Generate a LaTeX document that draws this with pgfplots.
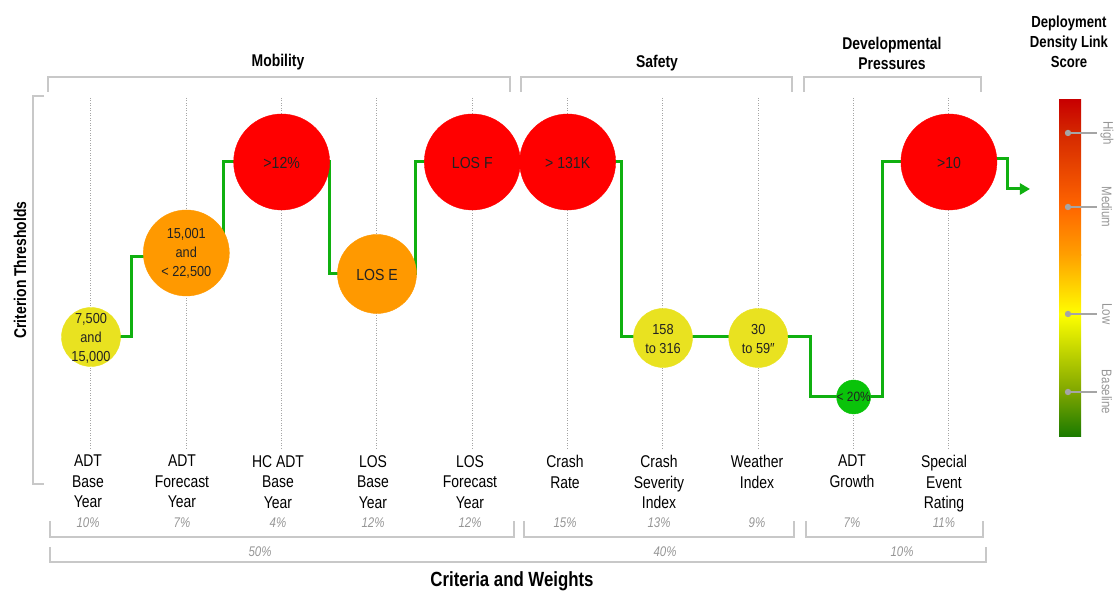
\documentclass[border=0pt]{standalone}
\usepackage{pgfplots}
\pgfplotsset{compat=1.18}
\usepackage{pgfplotstable}
\usepackage{fontspec}
\setmainfont{Liberation Sans}[FakeStretch=0.82]
\newfontfamily\bubfam{Liberation Sans}[FakeStretch=0.88]
\usetikzlibrary{arrows.meta}

\definecolor{stepgreen}{RGB}{16,176,16}
\definecolor{bubred}{RGB}{255,0,0}
\definecolor{bubor}{RGB}{255,153,0}
\definecolor{bubyel}{RGB}{233,226,32}
\definecolor{bubgrn}{RGB}{10,195,10}
\definecolor{bubtxt}{RGB}{34,34,34}
\definecolor{brk}{RGB}{200,200,200}
\definecolor{dotg}{RGB}{165,165,165}
\definecolor{wtxt}{RGB}{150,150,150}
\definecolor{cbA}{RGB}{200,0,0}
\definecolor{cbB}{RGB}{212,40,0}
\definecolor{cbC}{RGB}{255,102,0}
\definecolor{cbD}{RGB}{255,160,0}
\definecolor{cbE}{RGB}{255,255,0}
\definecolor{cbF}{RGB}{125,165,0}
\definecolor{cbG}{RGB}{25,122,0}

\newcommand\lab{\fontsize{17}{20.5}\selectfont}
\newcommand\hdr{\fontsize{17}{20}\selectfont\bfseries}
\newcommand\wt{\fontsize{14}{16}\selectfont\itshape}
\newcommand\bub{\bubfam\fontsize{16}{19}\selectfont}
\newcommand\bubm{\bubfam\fontsize{14.5}{19}\selectfont}

% criterion index, threshold level, bubble radius (pt), score class
\pgfplotstableread{
idx score r class
0 29.67 29.5 y
1 54.60 43 o
2 81.60 48 r
3 48.37 39.5 o
4 81.60 48 r
5 81.60 48 r
6 29.38 29.5 y
7 29.38 29.5 y
8 11.87 17 g
9 81.60 48 r
}\bubbles

\begin{document}
\begin{tikzpicture}
\begin{axis}[
  scale only axis, width=1117pt, height=593pt,
  xmin=-0.9546, xmax=10.763, ymin=-46.29, ymax=129.67,
  hide axis, clip=false]
\path (rel axis cs:0,0) rectangle (rel axis cs:1,1);
\coordinate (O) at (rel axis cs:0,1);

\pgfplotsinvokeforeach{0,...,9}{
  \draw[dotg, line width=1pt, dash pattern=on 1pt off 1.5pt] (axis cs:#1,100.6) -- (axis cs:#1,-3.3);
}

\addplot[stepgreen, line width=3pt, no marks] coordinates {
  (0,29.67) (0.420,29.67) (0.420,53.41) (1.395,53.41) (1.395,81.60)
  (2.497,81.60) (2.497,48.37) (3.409,48.37) (3.409,81.60) (5.570,81.60)
  (5.570,29.67) (7.552,29.67) (7.552,11.87) (8.308,11.87) (8.308,81.60) (9,81.60)
};
\addplot[stepgreen, line width=3pt, no marks, -{Triangle[length=10pt,width=11pt]}] coordinates {
  (9,82.49) (9.609,82.49) (9.609,73.59) (9.850,73.59)
};

\addplot[scatter, only marks, mark=*,
  scatter/classes={
    r={mark=*, draw=bubred, fill=bubred},
    o={mark=*, draw=bubor, fill=bubor},
    y={mark=*, draw=bubyel, fill=bubyel},
    g={mark=*, draw=bubgrn, fill=bubgrn}},
  point meta=explicit symbolic,
  visualization depends on={\thisrow{r} \as \rad},
  scatter/@pre marker code/.append style={/tikz/mark size=\rad}]
  table[x=idx, y=score, meta=class] {\bubbles};
\end{axis}

\begin{scope}[shift={(O)}, x=1pt, y=-1pt]
  % bubble texts
  \begin{scope}[every node/.style={text=bubtxt, align=center}]
  \node[font=\bubm] at (91,338) {7,500\\and\\15,000};
  \node[font=\bubm] at (186.3,253) {15,001\\and\\< 22,500};
  \node[font=\bub] at (281.7,163) {>12\%};
  \node[font=\bub] at (377,275) {LOS E};
  \node[font=\bub] at (472.3,163) {LOS F};
  \node[font=\bub] at (567.7,163) {> 131K};
  \node[font=\bubm] at (663,339) {158\\to 316};
  \node[font=\bubm] at (758.3,339) {30\\to 59″};
  \node[font=\bubfam\fontsize{13.5}{16}\selectfont] at (853.7,397) {< 20\%};
  \node[font=\bub] at (949,163) {>10};
  \end{scope}
  % group headers
  \node[font=\hdr] at (278,62) {Mobility};
  \node[font=\hdr] at (657,63) {Safety};
  \node[font=\hdr, align=center] at (892,53) {Developmental\\Pressures};
  \draw[brk, line width=2pt] (48,92) -- (48,77) -- (510,77) -- (510,92);
  \draw[brk, line width=2pt] (521,92) -- (521,77) -- (792,77) -- (792,92);
  \draw[brk, line width=2pt] (804,92) -- (804,77) -- (981,77) -- (981,92);
  % y label and bracket
  \draw[brk, line width=2pt] (44,96) -- (33,96) -- (33,484) -- (44,484);
  \node[font=\hdr, rotate=90] at (20,270) {Criterion Thresholds};
  % criteria labels
  \foreach \xx/\tt in {88/{ADT\\Base\\Year}, 182/{ADT\\Forecast\\Year},
      278/{HC ADT\\Base\\Year}, 373/{LOS\\Base\\Year}, 470/{LOS\\Forecast\\Year},
      565/{Crash\\Rate}, 659/{Crash\\Severity\\Index}, 757/{Weather\\Index},
      852/{ADT\\Growth}, 944/{Special\\Event\\Rating}}
    \node[font=\lab, align=center, anchor=north, inner sep=0pt] at (\xx,455) {\tt};
  % weights
  \foreach \xx/\tt in {88/10, 182/7, 278/4, 373/12, 470/12, 565/15, 659/13, 757/9, 852/7, 944/11}
    \node[font=\wt, text=wtxt] at (\xx,523) {\tt\%};
  \draw[brk, line width=2pt] (50,521) -- (50,537) -- (514,537) -- (514,521);
  \draw[brk, line width=2pt] (524,521) -- (524,537) -- (794,537) -- (794,521);
  \draw[brk, line width=2pt] (806,521) -- (806,537) -- (983,537) -- (983,521);
  \draw[brk, line width=2pt] (50,547) -- (50,562) -- (986,562) -- (986,547);
  \node[font=\wt, text=wtxt] at (260,552) {50\%};
  \node[font=\wt, text=wtxt] at (665,552) {40\%};
  \node[font=\wt, text=wtxt] at (902,552) {10\%};
  \node[font=\fontsize{20.5}{24}\selectfont\bfseries] at (512,581) {Criteria and Weights};
  % colour scale
  \node[font=\fontsize{16}{20}\selectfont\bfseries, align=center] at (1069,42) {Deployment\\Density Link\\Score};
  \fill[top color=cbA, bottom color=cbB] (1059,100) rectangle (1081,133.5);
  \fill[top color=cbB, bottom color=cbC] (1059,133) rectangle (1081,207.5);
  \fill[top color=cbC, bottom color=cbD] (1059,207) rectangle (1081,255.5);
  \fill[top color=cbD, bottom color=cbE] (1059,255) rectangle (1081,314.5);
  \fill[top color=cbE, bottom color=cbF] (1059,314) rectangle (1081,392.5);
  \fill[top color=cbF, bottom color=cbG] (1059,392) rectangle (1081,437);
  \foreach \yy/\tt in {133/High, 207/Medium, 314/Low, 392/Baseline} {
    \draw[dotg, line width=1.5pt] (1068,\yy) -- (1097,\yy);
    \fill[dotg] (1068,\yy) circle (3.2pt);
    \node[font=\fontsize{14}{16}\selectfont, text=wtxt, rotate=-90] at (1107,\yy) {\tt};
  }
\end{scope}
\end{tikzpicture}
\end{document}
